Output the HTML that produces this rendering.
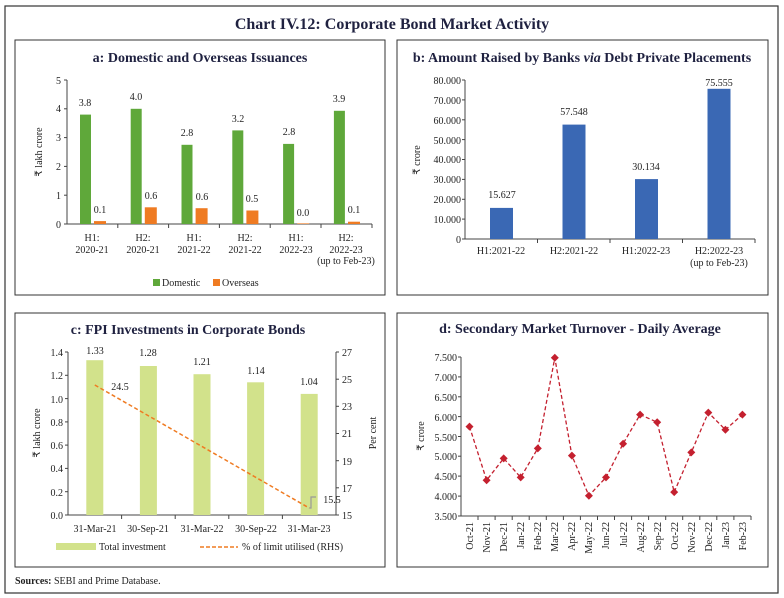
<!DOCTYPE html>
<html><head><meta charset="utf-8"><style>
body{margin:0;background:#fff}
svg{display:block}
text{font-family:"Liberation Serif",serif;fill:#222}
.t{font-weight:bold;fill:#1f2140;font-size:14px}
.k{font-size:10px}
</style></head><body>
<svg width="784" height="598" viewBox="0 0 784 598" xmlns="http://www.w3.org/2000/svg">
<rect x="5" y="6" width="773" height="587" fill="none" stroke="#333" stroke-width="1.2"/>
<text x="392" y="29" text-anchor="middle" style="font-size:16px;font-weight:bold;fill:#1f2140">Chart IV.12: Corporate Bond Market Activity</text>
<rect x="15" y="40" width="370" height="255" fill="none" stroke="#333"/>
<rect x="397" y="40" width="371" height="255" fill="none" stroke="#333"/>
<rect x="15" y="313" width="370" height="254" fill="none" stroke="#333"/>
<rect x="397" y="313" width="371" height="254" fill="none" stroke="#333"/>

<!-- Panel a -->
<text x="200" y="62" text-anchor="middle" class="t">a: Domestic and Overseas Issuances</text>
<g class="k">
<line x1="67" y1="80" x2="67" y2="224" stroke="#444"/>
<line x1="67" y1="224" x2="372" y2="224" stroke="#444"/>
<g text-anchor="end" font-size="10">
<text x="61" y="228">0</text><text x="61" y="199">1</text><text x="61" y="170">2</text><text x="61" y="141">3</text><text x="61" y="112">4</text><text x="61" y="84">5</text>
</g>
<g stroke="#444"><line x1="64" y1="224" x2="67" y2="224"/><line x1="64" y1="195.2" x2="67" y2="195.2"/><line x1="64" y1="166.4" x2="67" y2="166.4"/><line x1="64" y1="137.6" x2="67" y2="137.6"/><line x1="64" y1="108.8" x2="67" y2="108.8"/><line x1="64" y1="80" x2="67" y2="80"/>
<line x1="117.8" y1="224" x2="117.8" y2="228"/><line x1="168.6" y1="224" x2="168.6" y2="228"/><line x1="219.4" y1="224" x2="219.4" y2="228"/><line x1="270.2" y1="224" x2="270.2" y2="228"/><line x1="321" y1="224" x2="321" y2="228"/><line x1="372" y1="224" x2="372" y2="228"/></g>
<text transform="translate(42,152) rotate(-90)" text-anchor="middle" font-size="10">₹ lakh crore</text>
<g fill="#5fa83a">
<rect x="80" y="114.6" width="11" height="109.4"/><rect x="130.7" y="108.8" width="11" height="115.2"/><rect x="181.5" y="144.8" width="11" height="79.2"/><rect x="232.3" y="130.4" width="11" height="93.6"/><rect x="283.1" y="143.9" width="11" height="80.1"/><rect x="333.9" y="110.8" width="11" height="113.2"/>
</g>
<g fill="#ef7b22">
<rect x="94" y="221.1" width="12" height="2.9"/><rect x="144.8" y="207.3" width="12" height="16.7"/><rect x="195.6" y="208.2" width="12" height="15.8"/><rect x="246.4" y="210.5" width="12" height="13.5"/><rect x="297.2" y="223.4" width="12" height="0.6"/><rect x="348" y="221.7" width="12" height="2.3"/>
</g>
<g text-anchor="middle" font-size="10">
<text x="85" y="106">3.8</text><text x="136" y="100">4.0</text><text x="187" y="136">2.8</text><text x="238" y="122">3.2</text><text x="289" y="135">2.8</text><text x="339" y="102">3.9</text>
<text x="100" y="213">0.1</text><text x="151" y="199">0.6</text><text x="202" y="200">0.6</text><text x="252" y="202">0.5</text><text x="303" y="216">0.0</text><text x="354" y="213">0.1</text>
<text x="92" y="241">H1:</text><text x="92" y="253">2020-21</text>
<text x="143" y="241">H2:</text><text x="143" y="253">2020-21</text>
<text x="194" y="241">H1:</text><text x="194" y="253">2021-22</text>
<text x="245" y="241">H2:</text><text x="245" y="253">2021-22</text>
<text x="296" y="241">H1:</text><text x="296" y="253">2022-23</text>
<text x="346" y="241">H2:</text><text x="346" y="253">2022-23</text><text x="346" y="264">(up to Feb-23)</text>
</g>
<rect x="153" y="279" width="7" height="7" fill="#5fa83a"/><text x="162" y="286" font-size="10">Domestic</text>
<rect x="213" y="279" width="7" height="7" fill="#ef7b22"/><text x="222" y="286" font-size="10">Overseas</text>
</g>

<!-- Panel b -->
<text x="582" y="62" text-anchor="middle" class="t">b: Amount Raised by Banks <tspan font-style="italic">via</tspan> Debt Private Placements</text>
<line x1="465" y1="80" x2="465" y2="239" stroke="#444"/>
<line x1="465" y1="239" x2="755" y2="239" stroke="#444"/>
<g text-anchor="end" font-size="10">
<text x="461" y="243">0</text><text x="461" y="223">10.000</text><text x="461" y="203">20.000</text><text x="461" y="183">30.000</text><text x="461" y="163">40.000</text><text x="461" y="144">50.000</text><text x="461" y="124">60.000</text><text x="461" y="104">70.000</text><text x="461" y="84">80.000</text>
</g>
<g stroke="#444"><line x1="462" y1="239" x2="465" y2="239"/><line x1="462" y1="219.1" x2="465" y2="219.1"/><line x1="462" y1="199.3" x2="465" y2="199.3"/><line x1="462" y1="179.4" x2="465" y2="179.4"/><line x1="462" y1="159.5" x2="465" y2="159.5"/><line x1="462" y1="139.6" x2="465" y2="139.6"/><line x1="462" y1="119.8" x2="465" y2="119.8"/><line x1="462" y1="99.9" x2="465" y2="99.9"/><line x1="462" y1="80" x2="465" y2="80"/>
<line x1="537.5" y1="239" x2="537.5" y2="243"/><line x1="610" y1="239" x2="610" y2="243"/><line x1="682.5" y1="239" x2="682.5" y2="243"/><line x1="755" y1="239" x2="755" y2="243"/></g>
<text transform="translate(420,160) rotate(-90)" text-anchor="middle" font-size="10">₹ crore</text>
<g fill="#3a68b4">
<rect x="490" y="207.9" width="23" height="31.1"/><rect x="562.5" y="124.6" width="23" height="114.4"/><rect x="635" y="179.1" width="23" height="59.9"/><rect x="707.5" y="88.8" width="23" height="150.2"/>
</g>
<g text-anchor="middle" font-size="10">
<text x="502" y="198">15.627</text><text x="574" y="115">57.548</text><text x="646" y="170">30.134</text><text x="719" y="86">75.555</text>
<text x="501" y="254">H1:2021-22</text><text x="574" y="254">H2:2021-22</text><text x="646" y="254">H1:2022-23</text><text x="719" y="254">H2:2022-23</text><text x="719" y="266">(up to Feb-23)</text>
</g>

<!-- Panel c -->
<text x="188" y="334" text-anchor="middle" class="t">c: FPI Investments in Corporate Bonds</text>
<line x1="68" y1="352" x2="68" y2="515" stroke="#444"/>
<line x1="336" y1="352" x2="336" y2="515" stroke="#444"/>
<line x1="68" y1="515" x2="336" y2="515" stroke="#444"/>
<g text-anchor="end" font-size="10">
<text x="63" y="519">0.0</text><text x="63" y="496">0.2</text><text x="63" y="472">0.4</text><text x="63" y="449">0.6</text><text x="63" y="426">0.8</text><text x="63" y="403">1.0</text><text x="63" y="379">1.2</text><text x="63" y="356">1.4</text>
</g>
<g font-size="10">
<text x="342" y="519">15</text><text x="342" y="492">17</text><text x="342" y="465">19</text><text x="342" y="437">21</text><text x="342" y="410">23</text><text x="342" y="383">25</text><text x="342" y="356">27</text>
</g>
<g stroke="#444"><line x1="65" y1="515" x2="68" y2="515"/><line x1="65" y1="491.7" x2="68" y2="491.7"/><line x1="65" y1="468.4" x2="68" y2="468.4"/><line x1="65" y1="445.1" x2="68" y2="445.1"/><line x1="65" y1="421.9" x2="68" y2="421.9"/><line x1="65" y1="398.6" x2="68" y2="398.6"/><line x1="65" y1="375.3" x2="68" y2="375.3"/><line x1="65" y1="352" x2="68" y2="352"/>
<line x1="336" y1="515" x2="339" y2="515"/><line x1="336" y1="487.8" x2="339" y2="487.8"/><line x1="336" y1="460.7" x2="339" y2="460.7"/><line x1="336" y1="433.5" x2="339" y2="433.5"/><line x1="336" y1="406.3" x2="339" y2="406.3"/><line x1="336" y1="379.2" x2="339" y2="379.2"/><line x1="336" y1="352" x2="339" y2="352"/>
<line x1="121.6" y1="515" x2="121.6" y2="519"/><line x1="175.2" y1="515" x2="175.2" y2="519"/><line x1="228.8" y1="515" x2="228.8" y2="519"/><line x1="282.4" y1="515" x2="282.4" y2="519"/></g>
<text transform="translate(40,433) rotate(-90)" text-anchor="middle" font-size="10">₹ lakh crore</text>
<text transform="translate(376,433) rotate(-90)" text-anchor="middle" font-size="10">Per cent</text>
<g fill="#d2e28b">
<rect x="86.3" y="360.2" width="17" height="154.8"/><rect x="139.9" y="366" width="17" height="149"/><rect x="193.5" y="374.2" width="17" height="140.8"/><rect x="247.1" y="382.3" width="17" height="132.7"/><rect x="300.7" y="393.9" width="17" height="121.1"/>
</g>
<polyline points="309.2,508 311,508 311,497 316,497" fill="none" stroke="#999" stroke-width="1.2"/>
<line x1="94.8" y1="385" x2="309.2" y2="508" stroke="#ef7b22" stroke-width="1.5" stroke-dasharray="4,2.5"/>
<g text-anchor="middle" font-size="10">
<text x="95" y="354">1.33</text><text x="148" y="356">1.28</text><text x="202" y="365">1.21</text><text x="256" y="374">1.14</text><text x="309" y="385">1.04</text>
<text x="120" y="390">24.5</text><text x="332" y="503">15.5</text>
<text x="95" y="532">31-Mar-21</text><text x="148" y="532">30-Sep-21</text><text x="202" y="532">31-Mar-22</text><text x="256" y="532">30-Sep-22</text><text x="309" y="532">31-Mar-23</text>
</g>
<rect x="56" y="543" width="40" height="7" fill="#d2e28b"/><text x="99" y="550" font-size="10">Total investment</text>
<line x1="200" y1="547" x2="238" y2="547" stroke="#ef7b22" stroke-width="1.5" stroke-dasharray="4,2"/><text x="242" y="550" font-size="10">% of limit utilised (RHS)</text>

<!-- Panel d -->
<text x="580" y="333" text-anchor="middle" class="t">d: Secondary Market Turnover - Daily Average</text>
<line x1="461" y1="357" x2="461" y2="516" stroke="#444"/>
<line x1="461" y1="516" x2="751" y2="516" stroke="#444"/>
<g text-anchor="end" font-size="10">
<text x="457" y="520">3.500</text><text x="457" y="500">4.000</text><text x="457" y="480">4.500</text><text x="457" y="460">5.000</text><text x="457" y="441">5.500</text><text x="457" y="421">6.000</text><text x="457" y="401">6.500</text><text x="457" y="381">7.000</text><text x="457" y="361">7.500</text>
</g>
<g stroke="#444">
<line x1="458" y1="516" x2="461" y2="516"/><line x1="458" y1="496.1" x2="461" y2="496.1"/><line x1="458" y1="476.1" x2="461" y2="476.1"/><line x1="458" y1="456.2" x2="461" y2="456.2"/><line x1="458" y1="436.5" x2="461" y2="436.5"/><line x1="458" y1="416.6" x2="461" y2="416.6"/><line x1="458" y1="396.8" x2="461" y2="396.8"/><line x1="458" y1="376.9" x2="461" y2="376.9"/><line x1="458" y1="357" x2="461" y2="357"/>
</g>
<text transform="translate(424,436) rotate(-90)" text-anchor="middle" font-size="10">₹ crore</text>
<polyline fill="none" stroke="#c4202f" stroke-width="1.3" stroke-dasharray="4,2.5" points="469.5,426.6 486.6,480.2 503.7,458.4 520.7,477.4 537.8,448.4 554.8,357.8 571.9,455.6 588.9,495.7 606,477.4 623.1,443.7 640.1,414.6 657.2,422.2 674.2,492.1 691.3,452.4 708.3,412.6 725.4,429.7 742.4,414.6"/>
<g fill="#c4202f">
<path d="M469.5,422.6l4,4l-4,4l-4,-4z"/><path d="M486.6,476.2l4,4l-4,4l-4,-4z"/><path d="M503.7,454.4l4,4l-4,4l-4,-4z"/><path d="M520.7,473.4l4,4l-4,4l-4,-4z"/><path d="M537.8,444.4l4,4l-4,4l-4,-4z"/><path d="M554.8,353.8l4,4l-4,4l-4,-4z"/><path d="M571.9,451.6l4,4l-4,4l-4,-4z"/><path d="M588.9,491.7l4,4l-4,4l-4,-4z"/><path d="M606,473.4l4,4l-4,4l-4,-4z"/><path d="M623.1,439.7l4,4l-4,4l-4,-4z"/><path d="M640.1,410.6l4,4l-4,4l-4,-4z"/><path d="M657.2,418.2l4,4l-4,4l-4,-4z"/><path d="M674.2,488.1l4,4l-4,4l-4,-4z"/><path d="M691.3,448.4l4,4l-4,4l-4,-4z"/><path d="M708.3,408.6l4,4l-4,4l-4,-4z"/><path d="M725.4,425.7l4,4l-4,4l-4,-4z"/><path d="M742.4,410.6l4,4l-4,4l-4,-4z"/>
</g>
<g stroke="#444">
<line x1="478" y1="516" x2="478" y2="520"/><line x1="495.1" y1="516" x2="495.1" y2="520"/><line x1="512.2" y1="516" x2="512.2" y2="520"/><line x1="529.2" y1="516" x2="529.2" y2="520"/><line x1="546.3" y1="516" x2="546.3" y2="520"/><line x1="563.4" y1="516" x2="563.4" y2="520"/><line x1="580.4" y1="516" x2="580.4" y2="520"/><line x1="597.5" y1="516" x2="597.5" y2="520"/><line x1="614.5" y1="516" x2="614.5" y2="520"/><line x1="631.6" y1="516" x2="631.6" y2="520"/><line x1="648.6" y1="516" x2="648.6" y2="520"/><line x1="665.7" y1="516" x2="665.7" y2="520"/><line x1="682.7" y1="516" x2="682.7" y2="520"/><line x1="699.8" y1="516" x2="699.8" y2="520"/><line x1="716.8" y1="516" x2="716.8" y2="520"/><line x1="733.9" y1="516" x2="733.9" y2="520"/><line x1="751" y1="516" x2="751" y2="520"/>
</g>
<g font-size="10" text-anchor="end">
<text transform="translate(473,522) rotate(-90)">Oct-21</text><text transform="translate(490,522) rotate(-90)">Nov-21</text><text transform="translate(507,522) rotate(-90)">Dec-21</text><text transform="translate(524,522) rotate(-90)">Jan-22</text><text transform="translate(541,522) rotate(-90)">Feb-22</text><text transform="translate(558,522) rotate(-90)">Mar-22</text><text transform="translate(575,522) rotate(-90)">Apr-22</text><text transform="translate(592,522) rotate(-90)">May-22</text><text transform="translate(609,522) rotate(-90)">Jun-22</text><text transform="translate(627,522) rotate(-90)">Jul-22</text><text transform="translate(644,522) rotate(-90)">Aug-22</text><text transform="translate(661,522) rotate(-90)">Sep-22</text><text transform="translate(678,522) rotate(-90)">Oct-22</text><text transform="translate(695,522) rotate(-90)">Nov-22</text><text transform="translate(712,522) rotate(-90)">Dec-22</text><text transform="translate(729,522) rotate(-90)">Jan-23</text><text transform="translate(746,522) rotate(-90)">Feb-23</text>
</g>

<text x="15" y="584" font-size="10"><tspan font-weight="bold">Sources:</tspan> SEBI and Prime Database.</text>
</svg>
</body></html>
